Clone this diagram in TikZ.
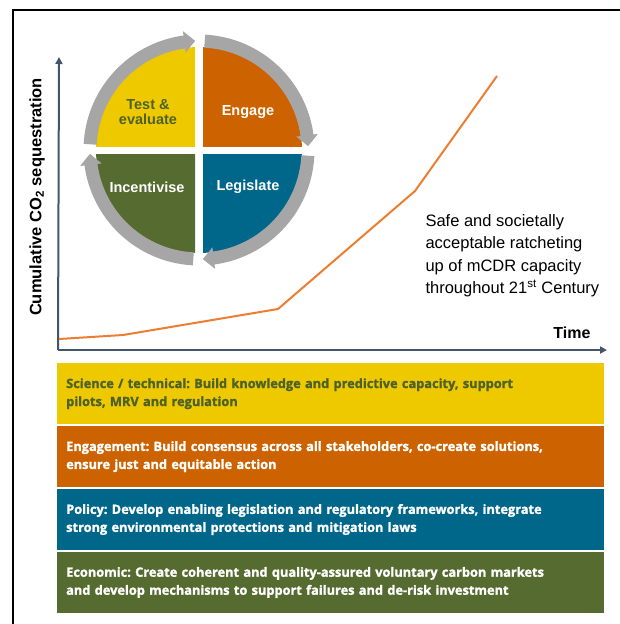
\documentclass[tikz,border=0pt]{standalone}
\usepackage{fontspec}
\setmainfont{Liberation Sans}
\newfontfamily\bandfont{Open Sans}[BoldFeatures={FakeBold=1.6}]
\usetikzlibrary{arrows.meta,bending,positioning}
\frenchspacing

\definecolor{testyellow}{HTML}{EEC900}
\definecolor{engageorange}{HTML}{CC6300}
\definecolor{legisblue}{HTML}{00668A}
\definecolor{incentgreen}{HTML}{566B2F}
\definecolor{labelgreen}{HTML}{4E6228}
\definecolor{axisblue}{HTML}{44546A}
\definecolor{curveorange}{HTML}{ED7D31}
\definecolor{ringgray}{HTML}{A6A6A6}

\tikzset{
  axis/.style={axisblue, line width=2pt, -{Triangle[width=7pt,length=7pt]}},
  ring/.style={ringgray, line width=13pt, -{Triangle[width=21pt,length=11pt,bend]}},
  quadlabel/.style={font=\bfseries\fontsize{14.5}{15.5}\selectfont, align=center, text=white},
  band/.style={anchor=north west, minimum width=547pt, minimum height=61pt,
    inner xsep=9pt, inner ysep=0pt, text width=529pt, align=left, text=white,
    font=\bandfont\bfseries\fontsize{12.8}{18}\selectfont},
}

\begin{document}
\begin{tikzpicture}[x=1pt, y=1pt]
  \useasboundingbox (0,0) rectangle (620,-624);
  % frame
  \draw[line width=2pt] (13,-626) -- (13,-10) -- (622,-10);

  % axes
  \coordinate (origin) at (59,-350);
  \coordinate (yend) at (59,-57);
  \coordinate (xend) at (607,-350);
  \draw[axis] (58,-350) -- (yend);
  \draw[axis] (58,-350) -- (xend);
  \node[rotate=90, font=\bfseries\fontsize{16.5}{18}\selectfont] (ylabel) at (37,-197)
    {Cumulative CO\textsubscript{2} sequestration};
  \node[anchor=east, font=\bfseries\fontsize{16}{18}\selectfont] (timelabel) at (594,-333) {Time};

  % capacity curve
  \draw[curveorange, line width=2pt, line join=round]
    (origin |- 0,-339) -- (123,-335) -- (278,-309) -- (415,-191) -- (497,-76);
  \node[anchor=west, align=left, font=\fontsize{16.5}{22.5}\selectfont] (ratchet) at (422,-255.5)
    {Safe and societally\\acceptable ratcheting\\up of mCDR capacity\\throughout 21\textsuperscript{st} Century};

  % cycle
  \coordinate (c) at (199,-150);
  \begin{scope}
    \clip (203,-146) rectangle (330,-20);
    \fill[engageorange] (c) circle[radius=103];
  \end{scope}
  \begin{scope}
    \clip (195,-146) rectangle (70,-20);
    \fill[testyellow] (c) circle[radius=103];
  \end{scope}
  \begin{scope}
    \clip (195,-154) rectangle (70,-280);
    \fill[incentgreen] (c) circle[radius=103];
  \end{scope}
  \begin{scope}
    \clip (203,-154) rectangle (330,-280);
    \fill[legisblue] (c) circle[radius=103];
  \end{scope}
  \foreach \e in {90,0,-90,-180} {
    \draw[ring] (c) ++(\e+87:109) arc[start angle=\e+87, end angle=\e+2, radius=109];
  }
  \node[quadlabel, text=labelgreen] (test) at (148,-112) {Test \&\\evaluate};
  \node[quadlabel] (engage) at (248,-112) {Engage};
  \node[quadlabel] (incentivise) at (147,-187) {Incentivise};
  \node[quadlabel] (legislate) at (248,-187) {Legislate};

  % action bands
  \node[band, fill=testyellow, text=labelgreen] (science) at (57,-363)
    {Science / technical: Build knowledge and predictive capacity, support\\pilots, MRV and regulation};
  \node[band, fill=engageorange, below=1.5pt of science.south west, anchor=north west] (engagement)
    {Engagement: Build consensus across all stakeholders, co-create solutions,\\ensure just and equitable action};
  \node[band, fill=legisblue, below=1.5pt of engagement.south west, anchor=north west] (policy)
    {Policy: Develop enabling legislation and regulatory frameworks, integrate\\strong environmental protections and mitigation laws};
  \node[band, fill=incentgreen, below=1.5pt of policy.south west, anchor=north west] (economic)
    {Economic: Create coherent and quality-assured voluntary carbon markets\\and develop mechanisms to support failures and de-risk investment};
\end{tikzpicture}
\end{document}
